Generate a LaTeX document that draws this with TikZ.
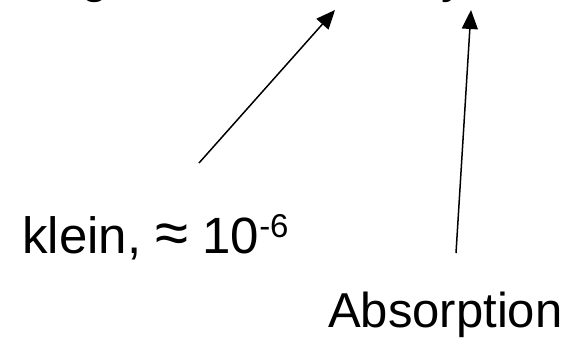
\documentclass[tikz,border=0pt]{standalone}
\usepackage{fontspec}
\setmainfont{Liberation Sans}
\usetikzlibrary{arrows.meta}
\tikzset{
  lbl/.style={anchor=base west, inner sep=0pt, font=\fontsize{49}{58}\selectfont},
  pointer/.style={line width=1.5pt, -{Triangle[length=19pt,width=16pt]}}
}
\newcommand{\supsix}{\raisebox{16pt}{\fontsize{33}{40}\selectfont -6}}
\newcommand{\approxsign}{{\fontsize{60}{60}\selectfont ≈}}
\begin{document}
\begin{tikzpicture}[x=1pt,y=-1pt]
\useasboundingbox (0,0) rectangle (569,339);
\begin{scope}
\clip (0,0) rectangle (569,339);
\node[lbl] (g) at (81,-7) {g};
\node[lbl] (y) at (441,-7) {y};
\end{scope}
\node[lbl, font=\fontsize{51}{60}\selectfont] (klein) at (22,253) {klein, \approxsign{} 10\supsix};
\node[lbl] (abs) at (328,327) {Absorption};
\coordinate (s1) at (199,163);
\coordinate (t1) at (335,10);
\coordinate (s2) at (456,253);
\coordinate (t2) at (471,10);
\draw[pointer] (s1) -- (t1);
\draw[pointer] (s2) -- (t2);
\end{tikzpicture}
\end{document}
